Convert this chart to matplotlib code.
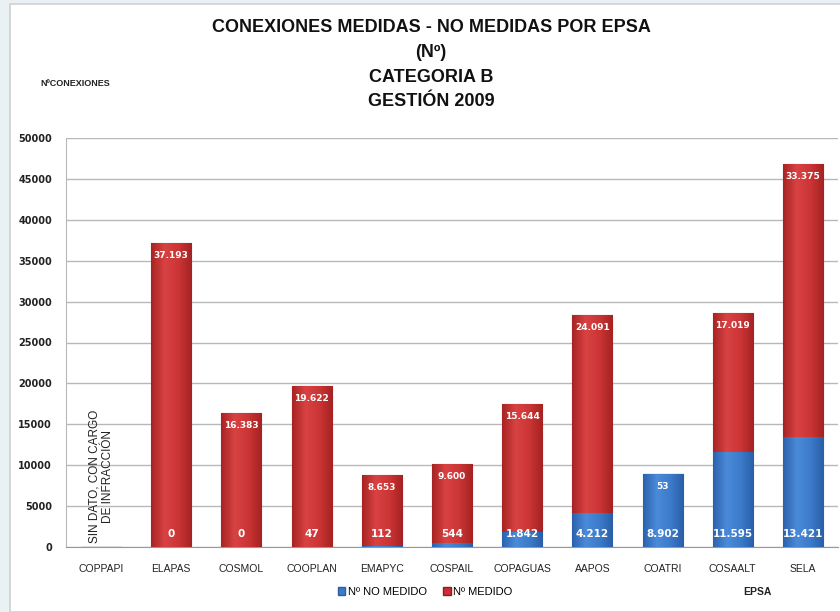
import numpy as np
import matplotlib.pyplot as plt
from matplotlib.patches import Rectangle, Patch
from matplotlib.colors import LinearSegmentedColormap

# data
epsa = ['COPPAPI', 'ELAPAS', 'COSMOL', 'COOPLAN', 'EMAPYC', 'COSPAIL',
        'COPAGUAS', 'AAPOS', 'COATRI', 'COSAALT', 'SELA']
no_medido = [0, 0, 0, 47, 112, 544, 1842, 4212, 8902, 11595, 13421]
medido = [0, 37193, 16383, 19622, 8653, 9600, 15644, 24091, 53, 17019, 33375]
yticks = [0, 5000, 10000, 15000, 20000, 25000, 30000, 35000, 40000, 45000, 50000]

font = ['Liberation Sans', 'DejaVu Sans']
red = '#c9302f'
blue = '#3a7bcc'
red_cmap = LinearSegmentedColormap.from_list('r', ['#a82424', '#d84242', '#cc3535', '#a52222'])
blue_cmap = LinearSegmentedColormap.from_list('b', ['#2c62ad', '#4a8ad8', '#3d7ccb', '#2a5fa8'])

def fmt(v):
    return '{:,}'.format(v).replace(',', '.')

def shade(bars, cmap):
    # horizontal gradient inside each bar, like the office 3d look
    grad = np.linspace(0, 1, 64).reshape(1, -1)
    for b in bars:
        if b.get_height() <= 0:
            continue
        x0, y0 = b.get_x(), b.get_y()
        im = ax.imshow(grad, cmap=cmap, aspect='auto', zorder=3.5,
                       extent=(x0, x0 + b.get_width(), y0, y0 + b.get_height()))
        im.set_clip_path(b)

fig = plt.figure(figsize=(8.4, 6.12), dpi=100)
fig.patch.set_facecolor('#eaf1f5')
# white slide panel
fig.patches.append(Rectangle((10 / 840, 0), 1, 1 - 4 / 612, transform=fig.transFigure,
                             facecolor='white', edgecolor='#d0d0d0', lw=1.2, zorder=-5))

ax = fig.add_axes([66 / 840, 65 / 612, 772 / 840, 409 / 612])
ax.set_facecolor('white')

x = list(range(len(epsa)))
w = 0.57
b1 = ax.bar(x, no_medido, w, color=blue, edgecolor='#2d5f9e', lw=0.8, zorder=3)
b2 = ax.bar(x, medido, w, bottom=no_medido, color=red, edgecolor='#8e1f1f', lw=0.8, zorder=3)
shade(b1, blue_cmap)
shade(b2, red_cmap)

for i in range(1, len(epsa)):
    total = no_medido[i] + medido[i]
    ax.text(i, 1550, fmt(no_medido[i]), ha='center', va='center', color='white',
            fontsize=7.5, fontweight='bold', zorder=5)
    ax.text(i, total - 1500, fmt(medido[i]), ha='center', va='center', color='white',
            fontsize=6.5, fontweight='bold', zorder=5)

ax.text(0, 500, 'SIN DATO, CON CARGO\nDE INFRACCIÓN', rotation=90, ha='center', va='bottom',
        fontsize=8.5, family=font, color='#222222', linespacing=1.1, zorder=5)

ax.set_xlim(-0.5, len(epsa) - 0.5)
ax.set_ylim(0, 50000)
ax.set_yticks(yticks)
ax.set_yticklabels([str(t) for t in yticks], fontsize=7, fontweight='bold', color='#222222')
ax.set_xticks(x)
ax.set_xticklabels(epsa, fontsize=7.5, family=font, color='#222222')
ax.tick_params(length=0, pad=12)
ax.tick_params(axis='y', pad=10)
ax.grid(axis='y', color='#b8b8b8', lw=1, zorder=0)
for s in ['top', 'right']:
    ax.spines[s].set_visible(False)
ax.spines['left'].set_color('#b8b8b8')
ax.spines['bottom'].set_color('#999999')

titles = ['CONEXIONES MEDIDAS - NO MEDIDAS POR EPSA', '(Nº)', 'CATEGORIA B', 'GESTIÓN 2009']
for k, t in enumerate(titles):
    fig.text(431 / 840, 1 - (28 + 24.5 * k) / 612, t, ha='center', va='center',
             fontsize=13, fontweight='bold', family=font, color='#111111')
fig.text(40 / 840, 1 - 84 / 612, 'NºCONEXIONES', ha='left', va='center',
         fontsize=6.5, fontweight='bold', family=font, color='#222222')
fig.text(757 / 840, 1 - 592 / 612, 'EPSA', ha='center', va='center',
         fontsize=7.5, fontweight='bold', family=font, color='#222222')

fig.legend(handles=[Patch(facecolor=blue, edgecolor='#2d5f9e'),
                    Patch(facecolor=red, edgecolor='#8e1f1f')],
           labels=['Nº NO MEDIDO', 'Nº MEDIDO'], loc='center', ncol=2,
           bbox_to_anchor=(425 / 840, 1 - 592 / 612), frameon=False,
           prop={'family': font, 'size': 8}, handlelength=0.7, handleheight=0.7,
           handletextpad=0.2, columnspacing=1.5)

fig.savefig('out.png', dpi=100, facecolor=fig.get_facecolor())
